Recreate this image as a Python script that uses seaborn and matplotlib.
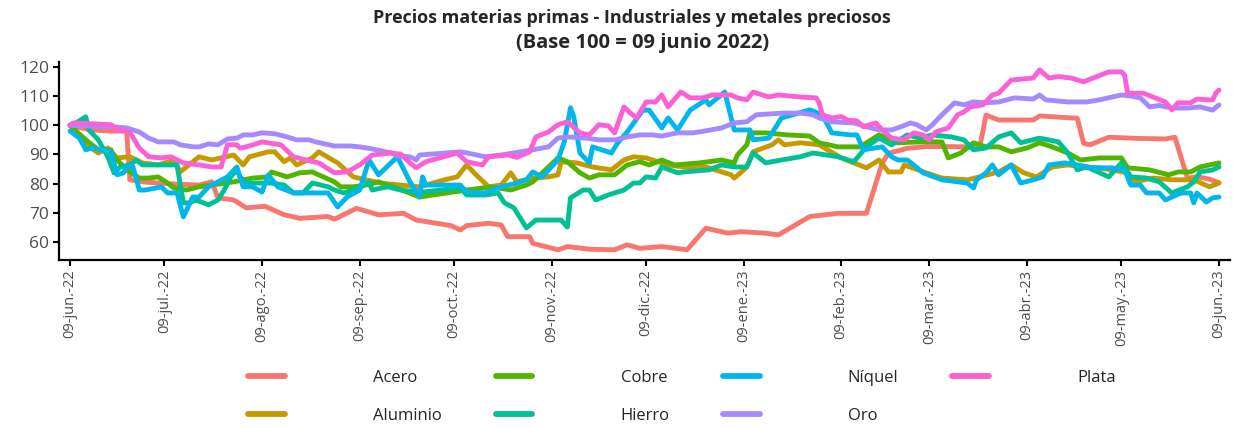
import pandas as pd
import matplotlib.pyplot as plt
import seaborn as sns

# Index values: (days since 09-jun-2022, index)
start = pd.Timestamp('2022-06-09')

series_names = ['Acero', 'Aluminio', 'Cobre', 'Hierro', 'Níquel', 'Oro', 'Plata']
colors = ['#F8766D', '#C49A00', '#53B400', '#00C094', '#00B6EB', '#A58AFF', '#FB61D7']

acero = [(0, 100), (6, 98.5), (13, 98), (18, 98), (19, 81.3), (24, 80.5), (34, 79.8),
         (41, 79.5), (45, 80.6), (47, 75.1), (52, 74.4), (56, 71.7), (62, 72.2), (68, 69.3),
         (73, 68.1), (82, 68.7), (84, 67.8), (91, 71.5), (98, 69.3), (106, 69.8), (110, 67.5),
         (121, 65.6), (124, 64.1), (126, 65.6), (133, 66.4), (137, 65.8), (139, 61.8),
         (146, 61.8), (147, 59.5), (155, 57.3), (158, 58.4), (165, 57.5), (173, 57.3),
         (177, 59), (181, 57.8), (188, 58.4), (196, 57.3), (202, 64.7), (209, 63),
         (213, 63.5), (221, 63), (225, 62.4), (235, 68.7), (244, 69.8), (253, 69.8),
         (258, 87), (260, 90.4), (266, 92.1), (272, 92.7), (279, 92.7), (289, 92.5),
         (291, 103.5), (295, 101.8), (306, 101.8), (308, 103.2), (320, 102.4), (322, 93.8),
         (324, 93.3), (330, 95.9), (339, 95.5), (348, 95.3), (351, 95.9), (355, 81.8),
         (358, 82.4), (362, 81.5), (365, 80.3)]

aluminio = [(0, 100), (6, 92.7), (9, 90.5), (12, 92.2), (15, 88.8), (19, 89.2), (23, 87.1),
            (28, 86.4), (33, 88.1), (35, 84), (41, 89.2), (45, 88.1), (52, 89.8), (55, 86.4),
            (57, 89.2), (63, 90.9), (65, 90.9), (68, 87.5), (70, 88.8), (72, 86.4), (77, 88.8),
            (79, 90.9), (85, 87.1), (90, 82.3), (94, 81.3), (99, 80.1), (105, 79.5),
            (111, 78.9), (119, 81.3), (123, 82.3), (126, 86.4), (129, 83), (133, 78.9),
            (137, 79.5), (140, 83.7), (142, 80.6), (147, 81.9), (152, 82.3), (155, 83),
            (156, 87.5), (161, 87.1), (166, 85.7), (172, 84.7), (176, 88.1), (179, 89.2),
            (183, 88.8), (190, 86.4), (195, 85.7), (202, 85.7), (210, 83), (211, 81.9),
            (213, 83.7), (215, 85.7), (217, 90.9), (223, 93.3), (225, 95), (227, 93.3),
            (232, 94), (238, 93.3), (245, 88.8), (253, 85.4), (257, 88.1), (260, 84),
            (264, 84), (265, 86.4), (272, 83.7), (277, 81.9), (285, 81.3), (289, 82.3),
            (295, 84), (299, 86.4), (303, 83.7), (307, 82.3), (312, 85.7), (317, 86.4),
            (322, 85.7), (327, 85.4), (336, 83.7), (338, 80.6), (344, 81.9), (350, 81.3),
            (357, 81.3), (362, 78.9), (365, 80.2)]

cobre = [(0, 100), (5, 95), (9, 91.6), (13, 91.6), (14, 89.2), (18, 84.7), (22, 81.9),
         (25, 81.9), (28, 82.3), (31, 80.2), (33, 78.5), (37, 77.8), (41, 78.9), (45, 79.5),
         (52, 80.6), (58, 81.9), (63, 82.3), (64, 84), (69, 82.3), (73, 83.7), (77, 84),
         (79, 83), (84, 80.6), (86, 78.9), (90, 78.9), (94, 79.5), (98, 80.6), (105, 78),
         (111, 75.4), (126, 77.8), (134, 78.9), (140, 77.8), (145, 79.5), (147, 80.6),
         (152, 85.7), (155, 88.8), (158, 87.5), (162, 83.7), (165, 81.9), (168, 83),
         (173, 83), (177, 86.4), (181, 87.5), (184, 86.4), (188, 88.1), (192, 86.4),
         (200, 87.1), (207, 88.1), (211, 87.1), (212, 89.8), (215, 93.3), (216, 97.4),
         (221, 97.4), (228, 96.7), (235, 96.3), (238, 94), (244, 92.6), (251, 92.6),
         (257, 96.7), (263, 94), (270, 94.3), (277, 94.3), (279, 88.8), (283, 90.5),
         (287, 94), (291, 92.6), (295, 92.6), (299, 90.9), (304, 92.2), (308, 94),
         (312, 92.6), (317, 90.5), (321, 88.1), (327, 88.8), (334, 88.8), (336, 85.4),
         (343, 84.7), (349, 83), (352, 84), (356, 84), (359, 85.7), (362, 86.4), (365, 87.1)]

hierro = [(0, 100), (1, 100.2), (5, 102.9), (6, 98.4), (9, 95), (12, 89.2), (14, 83.7),
          (16, 85.7), (19, 86.4), (21, 88.1), (23, 86.4), (34, 86.4), (36, 73.4), (38, 73.4),
          (40, 74.4), (44, 72.7), (47, 74.4), (49, 77.8), (51, 82.3), (53, 84.7), (54, 82.3),
          (56, 80.2), (64, 80.2), (68, 79.5), (71, 76.8), (74, 76.8), (77, 80.2), (82, 78.9),
          (84, 77.8), (87, 76.8), (92, 78.5), (95, 80.6), (96, 77.8), (101, 78.9),
          (105, 77.8), (111, 77), (124, 78.5), (126, 76.1), (132, 76.1), (136, 76.8),
          (138, 73.4), (141, 71.7), (145, 64.8), (148, 67.5), (156, 67.5), (158, 65.1),
          (159, 75.1), (163, 77.8), (165, 77.8), (167, 74.4), (171, 76.1), (176, 77.8),
          (179, 80.2), (181, 80.2), (183, 82.3), (186, 81.9), (188, 85.7), (193, 83.7),
          (195, 84), (203, 84.7), (207, 86.4), (211, 85.7), (215, 85.7), (217, 90.5),
          (221, 87.1), (226, 88.1), (232, 89.2), (236, 90.5), (244, 89.2), (249, 87.5),
          (253, 92.6), (257, 95.6), (261, 93.3), (266, 96.7), (270, 95.6), (274, 96.7),
          (280, 96), (284, 95), (287, 91.6), (291, 92.2), (295, 96), (299, 97.4), (302, 94),
          (308, 95.6), (314, 94.3), (317, 90.5), (320, 84.7), (323, 85.7), (330, 82.3),
          (334, 87.1), (337, 82.3), (342, 81.9), (346, 80.6), (350, 76.8), (355, 78.9),
          (357, 80.6), (359, 84), (363, 84.7), (365, 85.7)]

niquel = [(0, 98), (3, 95.6), (5, 91.6), (7, 92.2), (10, 91.6), (13, 90.9), (15, 83),
          (17, 83.7), (18, 85.7), (20, 85.7), (22, 77.8), (24, 77.8), (29, 78.9), (31, 76.8),
          (34, 76.8), (36, 68.6), (39, 75.4), (41, 75.4), (44, 78.9), (50, 82.3), (53, 85.7),
          (55, 78.9), (58, 78.9), (61, 77.1), (63, 83), (66, 78.9), (71, 76.8), (77, 76.8),
          (82, 76.8), (85, 72), (88, 75.4), (92, 77.8), (95, 88.1), (98, 83), (104, 89.2),
          (108, 80.6), (111, 75.4), (112, 82.3), (113, 79.5), (124, 79.5), (126, 77.1),
          (132, 76.8), (137, 78.9), (142, 80.2), (145, 81.3), (147, 84), (150, 82.3),
          (155, 88.1), (157, 94.3), (159, 106), (160, 103), (162, 90.5), (165, 87.1),
          (166, 92.6), (172, 90.5), (174, 94), (177, 97.7), (182, 105.2), (184, 105.2),
          (188, 99.1), (190, 102.5), (193, 98.4), (195, 101.8), (197, 105.2), (202, 108.7),
          (203, 107), (208, 111.4), (211, 98.4), (216, 98.4), (217, 95), (222, 95.6),
          (226, 102.5), (235, 105.3), (239, 103.6), (242, 97.4), (248, 96.7), (250, 96.7),
          (252, 91.6), (258, 92.6), (261, 89.2), (263, 88.1), (266, 88.1), (268, 86.4),
          (271, 83.7), (277, 81.3), (285, 80.2), (287, 78.5), (288, 81.3), (291, 83.7),
          (293, 86.4), (295, 83), (299, 86.4), (302, 80.2), (306, 81.3), (309, 82.3),
          (311, 86.4), (316, 87.1), (320, 86.4), (325, 85.4), (331, 85.4), (335, 84.7),
          (337, 79.5), (340, 79.5), (342, 76.8), (346, 76.8), (348, 74.4), (353, 76.8),
          (356, 76.8), (357, 73.4), (358, 76.8), (361, 73.7), (363, 75.1), (365, 75.4)]

oro = [(0, 100), (13, 99.5), (18, 99.1), (22, 97.7), (25, 95.6), (28, 94.3), (33, 94.3),
       (35, 93.3), (39, 92.6), (41, 92.6), (44, 93.6), (47, 93.3), (50, 95.3), (53, 95.6),
       (55, 96.7), (58, 96.7), (61, 97.4), (65, 97.1), (69, 96), (72, 95), (76, 95),
       (78, 94.3), (84, 92.9), (89, 92.9), (92, 92.6), (96, 91.9), (102, 90.5), (104, 89.5),
       (108, 89.2), (110, 88.1), (111, 89.8), (124, 90.9), (126, 90.5), (132, 89.2),
       (137, 89.8), (147, 91.6), (152, 92.6), (155, 95.6), (158, 96), (164, 95.6), (168, 95),
       (173, 95), (177, 96), (181, 96.7), (185, 96.7), (188, 96.3), (193, 97.4), (198, 97.4),
       (202, 98.1), (207, 99.1), (211, 100.8), (215, 101.2), (218, 103.6), (227, 104.2),
       (232, 104.2), (236, 103.6), (238, 102.5), (242, 101.2), (249, 100.8), (253, 99.5),
       (257, 98.4), (261, 98.4), (264, 99.5), (267, 100.8), (269, 100.2), (272, 98.4),
       (274, 100.2), (277, 103.6), (281, 107.7), (284, 107), (287, 108), (291, 107.7),
       (295, 108), (300, 109.4), (306, 109), (308, 110.4), (310, 108.7), (317, 108),
       (323, 108), (327, 108.7), (334, 110.4), (337, 110), (340, 109.4), (343, 106.3),
       (346, 106.8), (350, 105.9), (355, 105.9), (359, 106.3), (363, 105.2), (365, 107)]

plata = [(0, 100), (1, 100.8), (13, 100.2), (15, 98.8), (19, 97.7), (22, 92.2), (25, 89.2),
         (29, 88.8), (32, 89.2), (36, 87.1), (41, 86.4), (45, 85.7), (48, 85.7), (50, 93.3),
         (53, 93.3), (54, 92.2), (56, 92.6), (61, 94.3), (67, 93.3), (71, 89.2), (75, 88.1),
         (79, 87.1), (84, 83.7), (88, 84), (92, 86.4), (96, 89.8), (102, 90.5), (105, 90.1),
         (108, 87.1), (110, 85.4), (113, 87.5), (123, 90.5), (126, 87.5), (131, 86.4),
         (133, 89.2), (139, 89.8), (142, 89), (146, 90.9), (148, 96), (152, 97.7),
         (155, 100.2), (158, 101.2), (162, 97.4), (165, 96.7), (168, 100.2), (171, 99.8),
         (173, 97.4), (176, 106.3), (178, 104.2), (180, 102.5), (183, 108), (186, 108),
         (188, 110.4), (190, 106.3), (194, 111.4), (197, 109.4), (201, 109.4), (204, 110.4),
         (210, 110.4), (212, 109.4), (215, 108.7), (217, 111.4), (222, 109.7), (225, 110.4),
         (232, 109.7), (237, 109.4), (238, 107.7), (239, 103.6), (242, 102.5), (245, 103),
         (247, 101.8), (250, 101.5), (252, 99.5), (256, 100.8), (258, 98.4), (261, 95.6),
         (265, 95), (268, 97.4), (271, 96.7), (273, 95), (275, 97.7), (279, 99.1),
         (282, 103.6), (284, 104.6), (286, 106.3), (290, 107), (293, 110.4), (295, 111),
         (299, 115.5), (306, 116.2), (308, 119), (311, 116.2), (314, 116.7), (318, 116.2),
         (322, 114.9), (325, 116.2), (330, 118.3), (334, 118.3), (335, 117.3), (336, 111),
         (341, 111), (344, 109.7), (348, 108), (350, 105.3), (352, 107.7), (356, 107.7),
         (358, 109), (362, 108.7), (363, 108.7), (364, 111), (365, 112.1)]

tick_dates = ['2022-06-09', '2022-07-09', '2022-08-09', '2022-09-09', '2022-10-09',
              '2022-11-09', '2022-12-09', '2023-01-09', '2023-02-09', '2023-03-09',
              '2023-04-09', '2023-05-09', '2023-06-09']
tick_labels = ['09-jun.-22', '09-jul.-22', '09-ago.-22', '09-sep.-22', '09-oct.-22',
               '09-nov.-22', '09-dic.-22', '09-ene.-23', '09-feb.-23', '09-mar.-23',
               '09-abr.-23', '09-may.-23', '09-jun.-23']
y_ticks = [60, 70, 80, 90, 100, 110, 120]

# Long-form table for seaborn
rows = []
for name, pts in zip(series_names, [acero, aluminio, cobre, hierro, niquel, oro, plata]):
    for d, v in pts:
        rows.append({'fecha': start + pd.Timedelta(days=d), 'indice': v, 'serie': name})
df = pd.DataFrame(rows)

sns.set_style('white')
plt.rcParams['font.family'] = ['Open Sans', 'DejaVu Sans']

fig = plt.figure(figsize=(12.33, 4.28), dpi=100)
ax = fig.add_axes([59 / 1233, 168 / 428, 1171 / 1233, 198 / 428])

sns.lineplot(data=df, x='fecha', y='indice', hue='serie', hue_order=series_names,
             palette=dict(zip(series_names, colors)), linewidth=3.5,
             estimator=None, sort=True, ax=ax)

ax.set_xlim(start - pd.Timedelta(days=3.5), start + pd.Timedelta(days=368.5))
ax.set_ylim(53.8, 121.7)
ax.set_yticks(y_ticks)
ax.set_xticks(pd.to_datetime(tick_dates))
ax.set_xticklabels(tick_labels, rotation=90)
ax.set_xlabel('')
ax.set_ylabel('')
ax.tick_params(axis='both', which='major', length=4, width=1.5, color='black',
               labelcolor='#4D4D4D', direction='out', bottom=True, left=True)
ax.tick_params(axis='y', labelsize=12.5, pad=3)
ax.tick_params(axis='x', labelsize=10.5, pad=3)
for side in ['top', 'right']:
    ax.spines[side].set_visible(False)
for side in ['left', 'bottom']:
    ax.spines[side].set_linewidth(1.6)
    ax.spines[side].set_color('black')

handles, labels = ax.get_legend_handles_labels()
ax.get_legend().remove()
leg = fig.legend(handles, labels, ncol=4, loc='center', bbox_to_anchor=(682 / 1233, 1 - 397 / 428),
                 frameon=False, fontsize=12, handlelength=2.2, handletextpad=5.3,
                 columnspacing=3.2, labelspacing=1.3)
for line in leg.get_lines():
    line.set_linewidth(4.2)

fig.text(632 / 1233, 1 - 18 / 428, 'Precios materias primas - Industriales y metales preciosos',
         ha='center', va='center', fontsize=13, fontweight='bold')
fig.text(643 / 1233, 1 - 43 / 428, '(Base 100 = 09 junio 2022)',
         ha='center', va='center', fontsize=14.5, fontweight='bold')

fig.savefig('out.png', dpi=100)
